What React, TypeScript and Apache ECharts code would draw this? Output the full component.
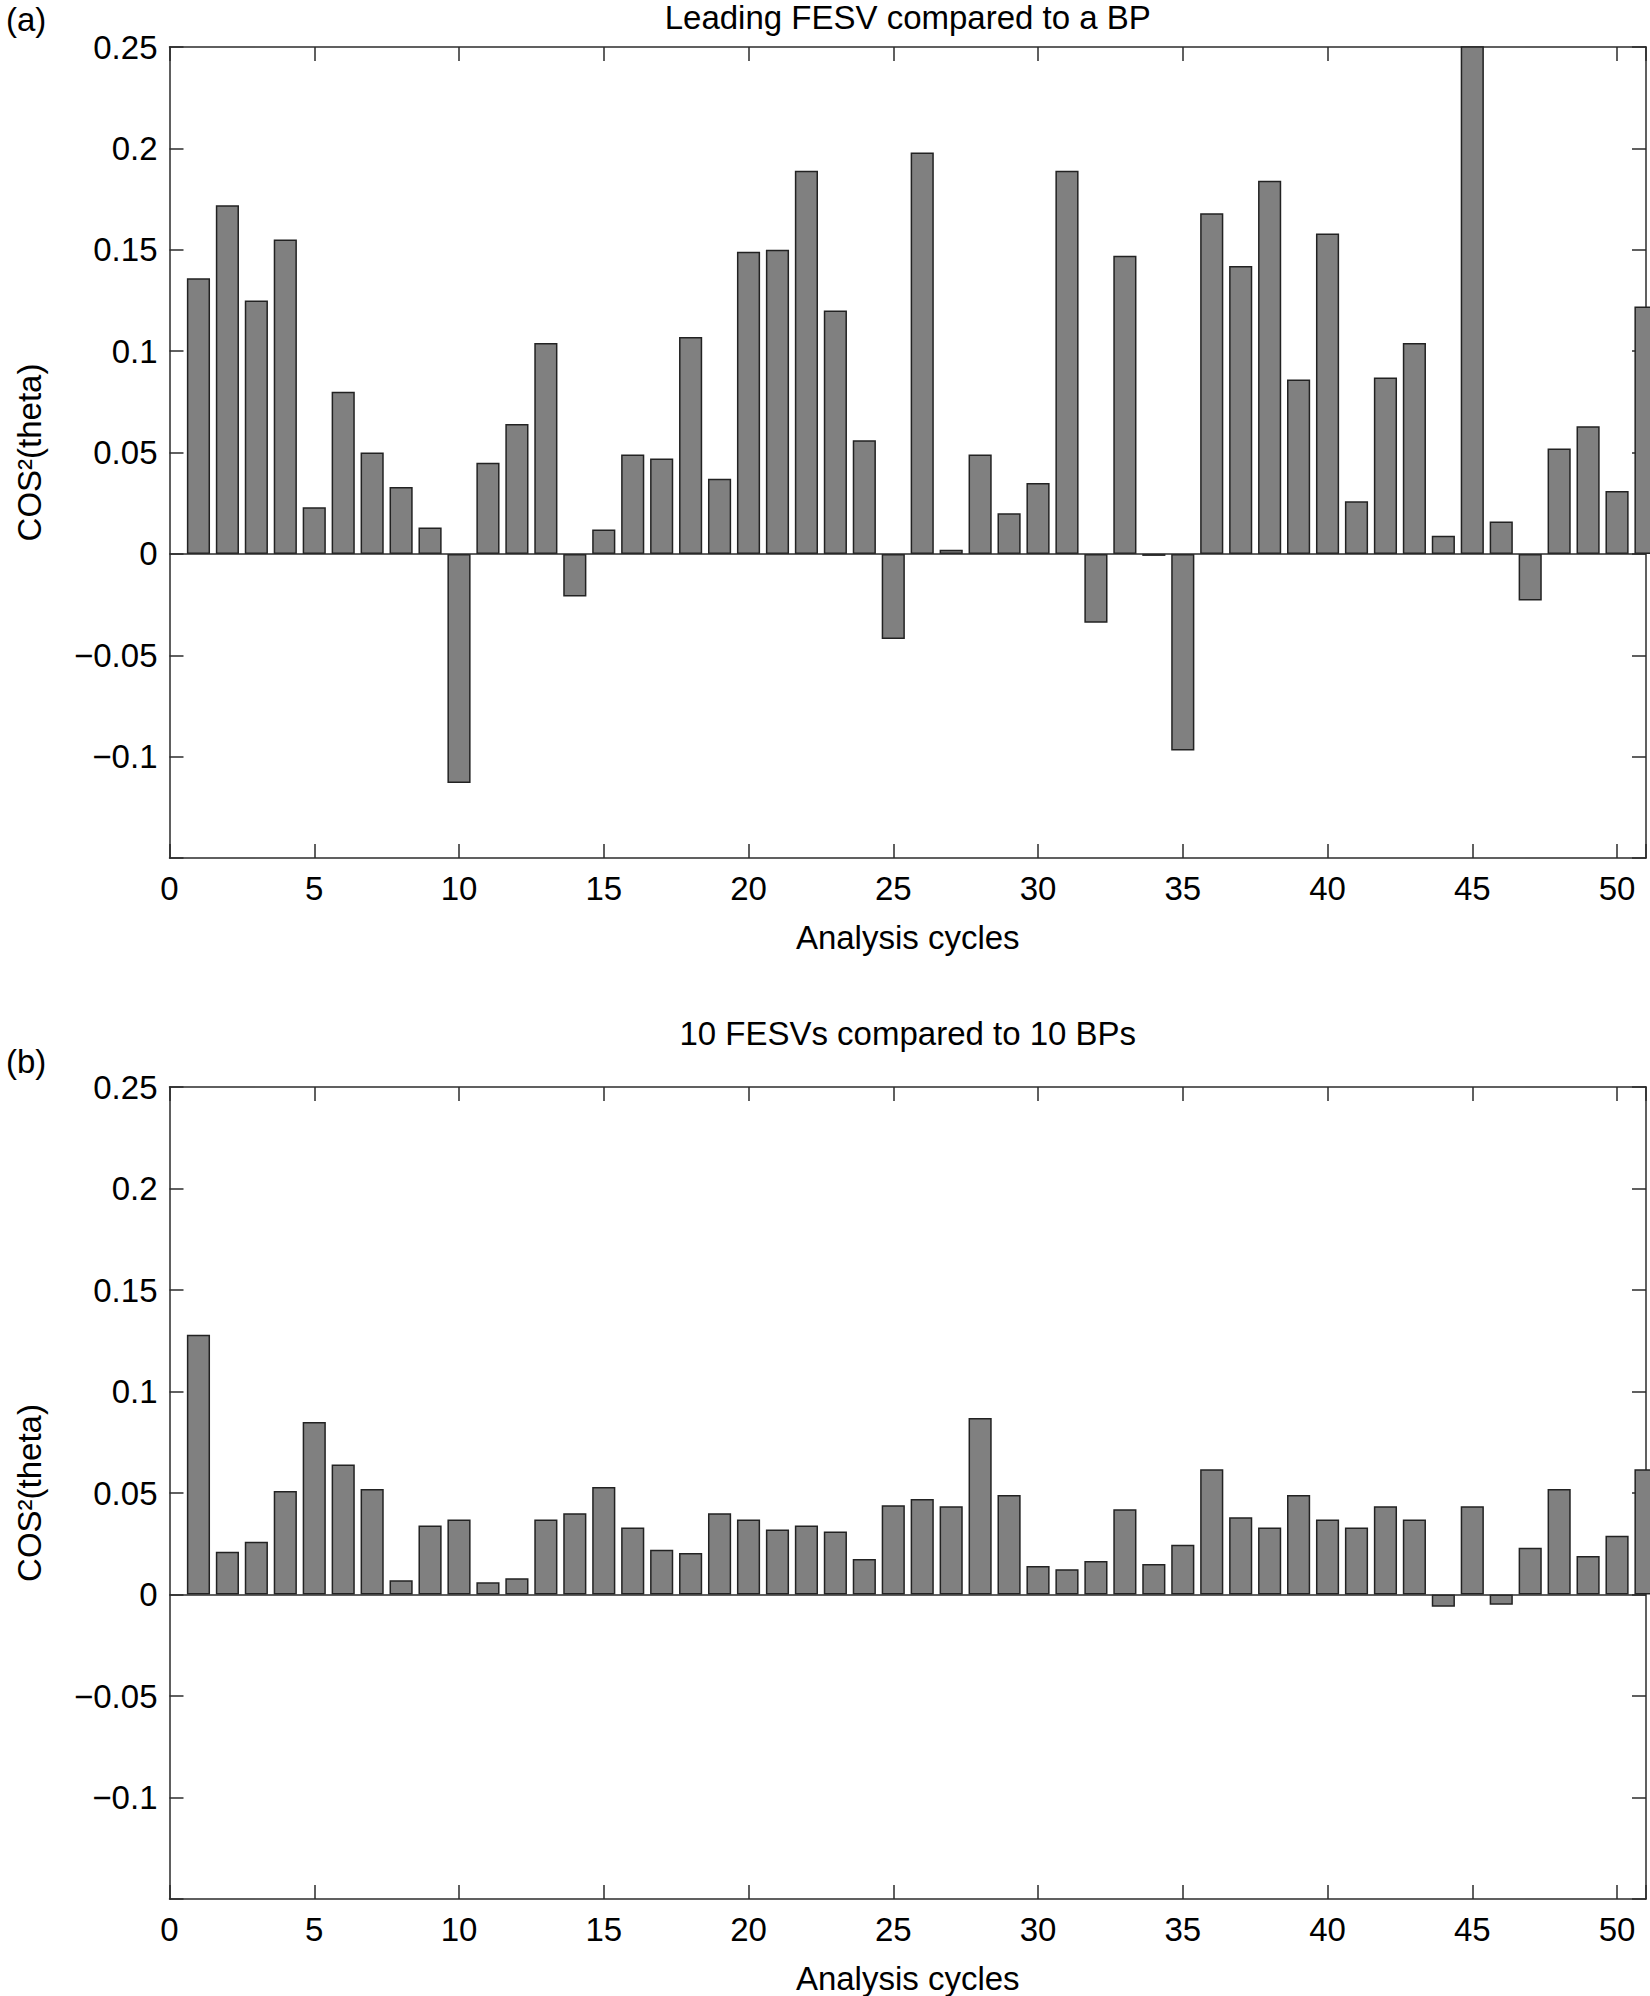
import React, { useEffect, useRef } from "react";
import * as echarts from "echarts";

// ---------- data ----------
const cycles = [
  1, 2, 3, 4, 5, 6, 7, 8, 9, 10, 11, 12, 13, 14, 15, 16, 17, 18, 19, 20, 21, 22, 23, 24, 25,
  26, 27, 28, 29, 30, 31, 32, 33, 34, 35, 36, 37, 38, 39, 40, 41, 42, 43, 44, 45, 46, 47, 48,
  49, 50, 51,
];

const leadingFesv = [
  0.136, 0.172, 0.125, 0.155, 0.023, 0.08, 0.05, 0.033, 0.013, -0.113, 0.045, 0.064, 0.104,
  -0.021, 0.012, 0.049, 0.047, 0.107, 0.037, 0.149, 0.15, 0.189, 0.12, 0.056, -0.042, 0.198,
  0.002, 0.049, 0.02, 0.035, 0.189, -0.034, 0.147, -0.001, -0.097, 0.168, 0.142, 0.184, 0.086,
  0.158, 0.026, 0.087, 0.104, 0.009, 0.26, 0.016, -0.023, 0.052, 0.063, 0.031, 0.122,
];

const tenFesvs = [
  0.128, 0.021, 0.026, 0.051, 0.085, 0.064, 0.052, 0.007, 0.034, 0.037, 0.006, 0.008, 0.037,
  0.04, 0.053, 0.033, 0.022, 0.0205, 0.04, 0.037, 0.032, 0.034, 0.031, 0.0175, 0.044, 0.047,
  0.0435, 0.087, 0.049, 0.014, 0.0125, 0.0165, 0.042, 0.015, 0.0245, 0.0617, 0.038, 0.033,
  0.049, 0.037, 0.033, 0.0435, 0.037, -0.006, 0.0435, -0.005, 0.023, 0.052, 0.019, 0.029,
  0.0617,
];

const panelTitles = ["Leading FESV compared to a BP", "10 FESVs compared to 10 BPs"];
const panelLetters = ["(a)", "(b)"];
const xName = "Analysis cycles";
const yName = "COS\u00B2(theta)";

const xMin = 0;
const xMax = 51;
const xStep = 5;
const yMin = -0.15;
const yMax = 0.25;
const yStep = 0.05;

// ---------- layout ----------
const W = 1650;
const H = 1996;
const FONT = "'Liberation Sans', Arial, Helvetica, sans-serif";
const FS = 33;
const gridLeft = 169.5;
const gridRight = 1646;
const gridW = gridRight - gridLeft;
const grids = [
  { top: 47, height: 811 },
  { top: 1087, height: 812 },
];
const titleY = [17, 1033];
const letterY = [19, 1061];
const AX = "#2b2b2b";

function fmtY(v: number): string {
  if (v < yMin + 0.001) return "";
  const r = Math.round(v * 100) / 100;
  if (r < 0) return "\u2212" + String(-r);
  return String(r === 0 ? 0 : r);
}

function fmtX(v: number): string {
  return Math.abs(v % xStep) < 1e-9 ? String(v) : "";
}

export default function App() {
  const ref = useRef<HTMLDivElement>(null);

  useEffect(() => {
    document.body.style.margin = "0";
    if (!ref.current) return;
    const chart = echarts.init(ref.current, undefined, { renderer: "svg" });

    const unit = gridW / (xMax - xMin);
    const barWidth = unit * 0.8;
    const lineStyle = { color: AX, width: 1.5 };
    const labelStyle = { fontSize: FS, color: "#000", fontFamily: FONT };

    const xAxes: any[] = [];
    const yAxes: any[] = [];
    const series: any[] = [];
    const datasets = [leadingFesv, tenFesvs];

    grids.forEach((g, i) => {
      xAxes.push({
        type: "value",
        gridIndex: i,
        min: xMin,
        max: xMax,
        interval: xStep,
        position: "bottom",
        axisLine: { show: true, onZero: false, lineStyle },
        axisTick: { show: true, inside: true, length: 14, lineStyle },
        axisLabel: { margin: 14, ...labelStyle, formatter: fmtX },
        splitLine: { show: false },
        name: xName,
        nameLocation: "middle",
        nameGap: 63,
        nameTextStyle: { ...labelStyle },
      });
      xAxes.push({
        type: "value",
        gridIndex: i,
        min: xMin,
        max: xMax,
        interval: xStep,
        position: "top",
        axisLine: { show: true, onZero: false, lineStyle },
        axisTick: { show: true, inside: true, length: 14, lineStyle },
        axisLabel: { show: false },
        splitLine: { show: false },
      });
      yAxes.push({
        type: "value",
        gridIndex: i,
        min: yMin,
        max: yMax,
        interval: yStep,
        position: "left",
        axisLine: { show: true, onZero: false, lineStyle },
        axisTick: { show: true, inside: true, length: 14, lineStyle },
        axisLabel: { margin: 12, ...labelStyle, formatter: fmtY },
        splitLine: { show: false },
        name: yName,
        nameLocation: "middle",
        nameGap: 124,
        nameRotate: 90,
        nameTextStyle: { ...labelStyle },
      });
      yAxes.push({
        type: "value",
        gridIndex: i,
        min: yMin,
        max: yMax,
        interval: yStep,
        position: "right",
        axisLine: { show: true, onZero: false, lineStyle },
        axisTick: { show: true, inside: true, length: 14, lineStyle },
        axisLabel: { show: false },
        splitLine: { show: false },
      });
      series.push({
        type: "bar",
        xAxisIndex: i * 2,
        yAxisIndex: i * 2,
        clip: true,
        barWidth,
        data: cycles.map((c, k) => [c, datasets[i][k]]),
        itemStyle: { color: "#808080", borderColor: "#222", borderWidth: 1.5 },
        markLine: {
          silent: true,
          symbol: ["none", "none"],
          label: { show: false },
          lineStyle: { color: AX, width: 1.5, type: "solid" },
          data: [{ yAxis: 0 }],
        },
      });
    });

    const graphic: any[] = [];
    panelTitles.forEach((t, i) => {
      graphic.push({
        type: "text",
        x: gridLeft + gridW / 2,
        y: titleY[i],
        style: {
          text: t,
          fontSize: FS,
          fontFamily: FONT,
          fill: "#000",
          align: "center",
          textAlign: "center",
          verticalAlign: "middle",
          textVerticalAlign: "middle",
        },
      });
      graphic.push({
        type: "text",
        x: 6,
        y: letterY[i],
        style: {
          text: panelLetters[i],
          fontSize: FS,
          fontFamily: FONT,
          fill: "#000",
          align: "left",
          textAlign: "left",
          verticalAlign: "middle",
          textVerticalAlign: "middle",
        },
      });
    });

    chart.setOption({
      animation: false,
      backgroundColor: "#fff",
      textStyle: { fontFamily: FONT },
      grid: grids.map((g) => ({
        left: gridLeft,
        top: g.top,
        width: gridW,
        height: g.height,
        containLabel: false,
      })),
      xAxis: xAxes,
      yAxis: yAxes,
      series,
      graphic,
    });

    return () => chart.dispose();
  }, []);

  return <div ref={ref} style={{ width: W, height: H }} />;
}
